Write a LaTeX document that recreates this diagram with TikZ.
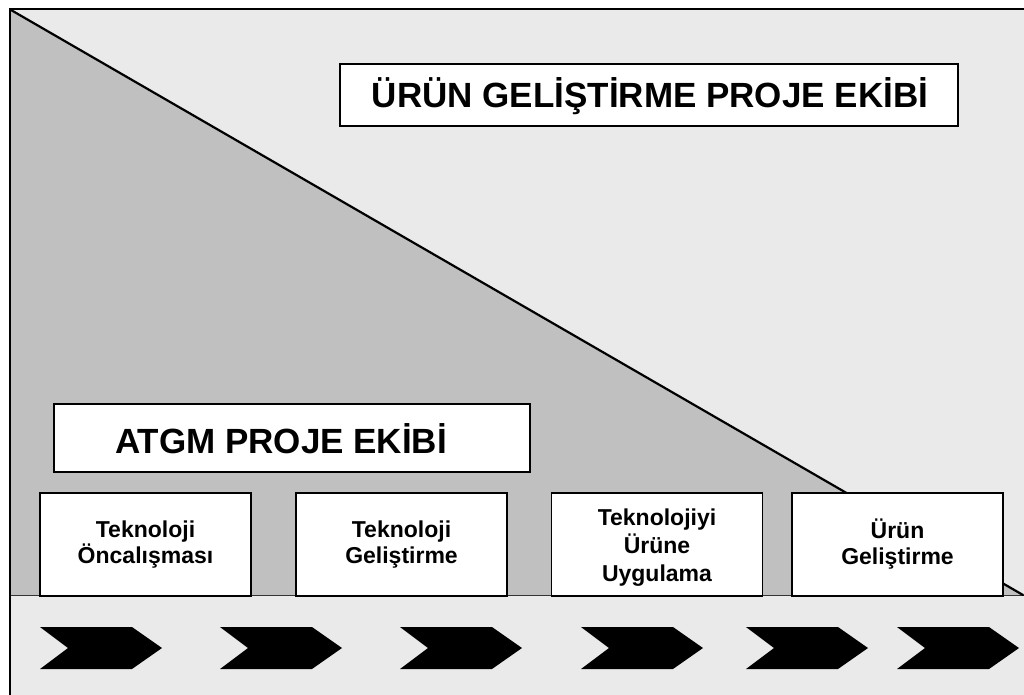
\documentclass[tikz,border=0pt]{standalone}
\usepackage{fontspec}
\setmainfont{Liberation Sans}
\begin{document}
\begin{tikzpicture}[x=1pt,y=-1pt,
  team/.style={draw=black, line width=1.6pt, fill=white, inner sep=0pt},
  phase/.style={draw=black, line width=1.4pt, fill=white, inner sep=0pt,
    minimum width=211pt, minimum height=103pt, align=center,
    font=\fontsize{23}{26}\selectfont\bfseries},
  threeline/.style={font=\fontsize{23}{28}\selectfont\bfseries},
  titletext/.style={font=\fontsize{35}{40}\selectfont\bfseries, inner sep=0pt},
  chevron/.style={fill=black}]
\definecolor{lightbg}{HTML}{EAEAEA}
\definecolor{darkbg}{HTML}{C0C0C0}
\useasboundingbox (0,0) rectangle (1024,694);
\clip (0,0) rectangle (1024,694);

% frame corners and the diagonal that splits the two teams
\coordinate (tl) at (10,9);
\coordinate (br) at (1028,698);
\coordinate (diagEnd) at (1023,595);
\coordinate (bandL) at (10,595);
\coordinate (bandR) at (1028,595);

% backgrounds
\fill[lightbg] (tl) rectangle (br);
\fill[darkbg] (tl) -- (diagEnd) -- (bandL) -- cycle;
\fill[lightbg] (bandL) rectangle (br);
\draw[line width=1pt, black!80] (bandL) -- (bandR);
\draw[line width=2.2pt, line cap=round] (11,10) -- (diagEnd);
\draw[line width=2pt] (tl) rectangle (br);

% team labels
\node[team, minimum width=618pt, minimum height=62pt] (urunTeam) at (649,95) {};
\node[titletext] (urunText) at (650,96) {ÜRÜN GELİŞTİRME PROJE EKİBİ};
\node[team, minimum width=476pt, minimum height=68pt] (atgmTeam) at (292,438) {};
\node[titletext] (atgmText) at (281,439) {ATGM PROJE EKİBİ};

% phases
\node[phase] (p1) at (145.5,544.5) {Teknoloji\\Öncalışması};
\node[phase] (p2) at (401.5,544.5) {Teknoloji\\Geliştirme};
\node[phase, threeline] (p3) at (657,544.5) {\rule{0pt}{23pt}Teknolojiyi\\Ürüne\\Uygulama};
\node[phase] (p4) at (897.5,544.5) {Ürün\\Geliştirme};

% process chevrons along the bottom band
\foreach \cx in {40,220,400,581,746,897}{
  \fill[chevron] (\cx,627) -- ++(92,0) -- ++(30,21) -- ++(-30,21)
    -- ++(-92,0) -- ++(28,-21) -- cycle;
}
\end{tikzpicture}
\end{document}
